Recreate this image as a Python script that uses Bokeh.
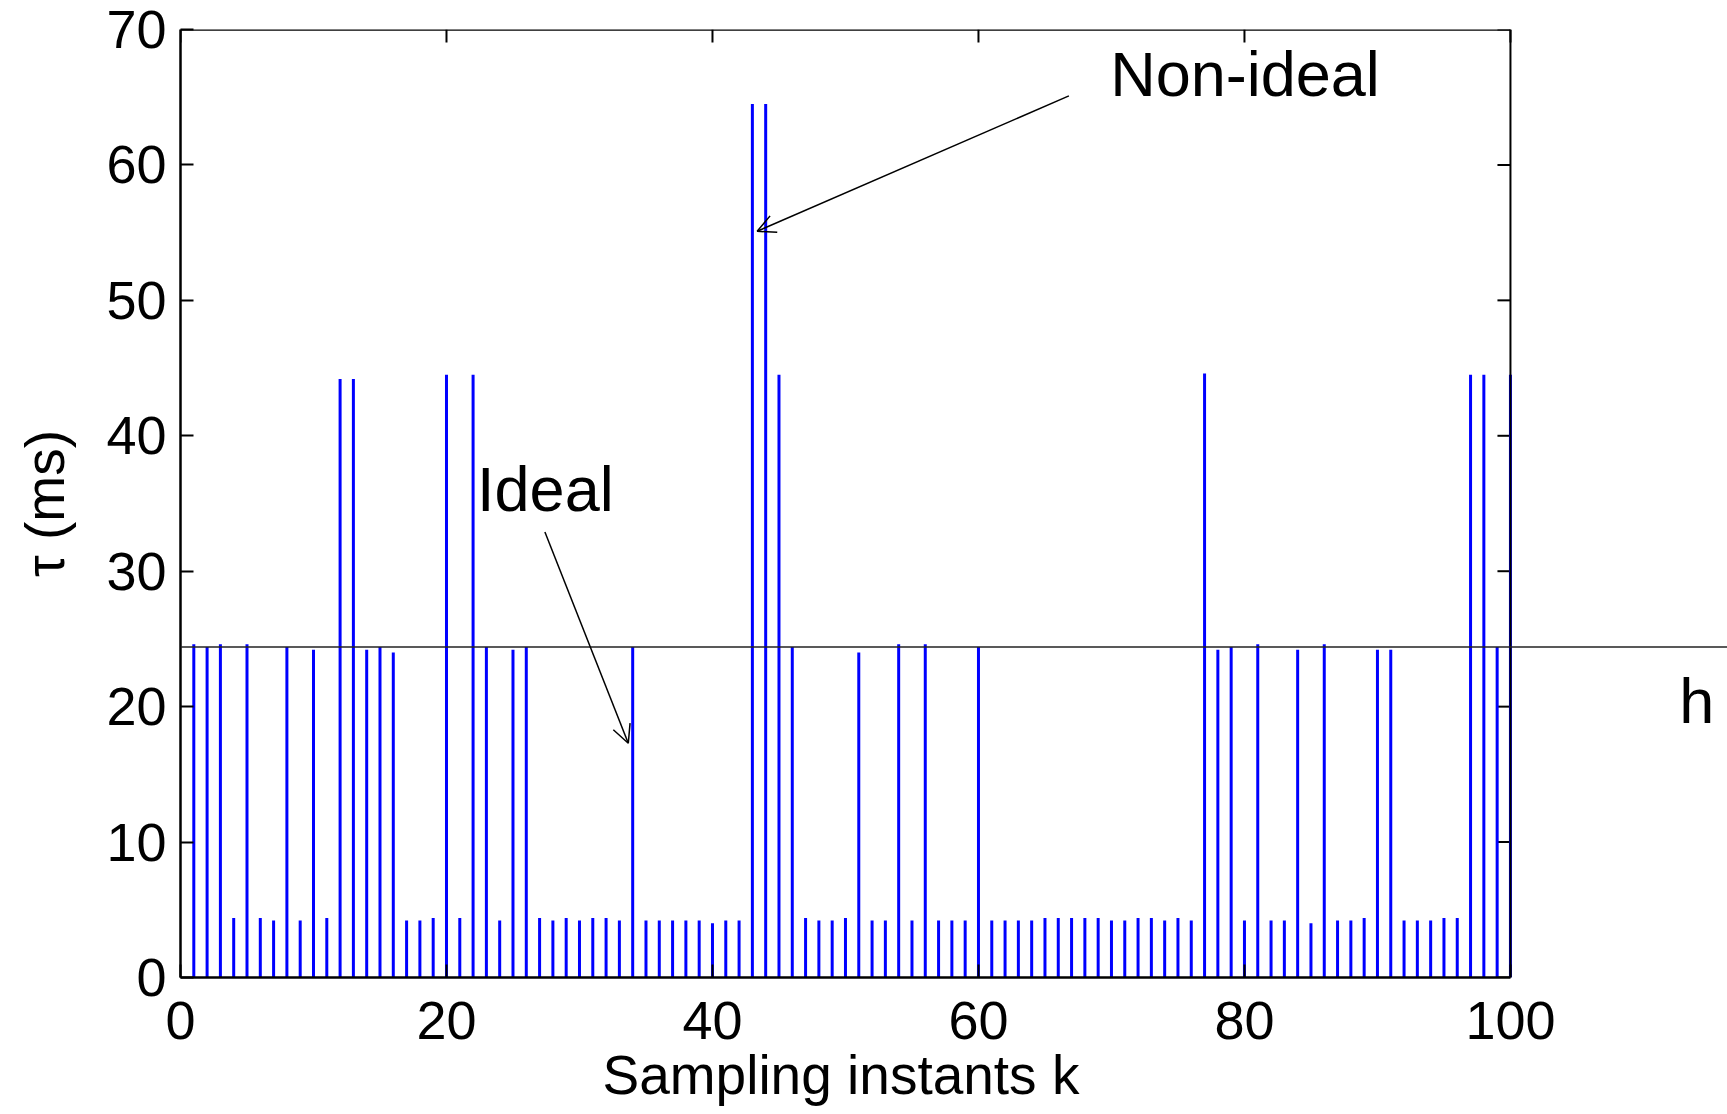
from bokeh.plotting import figure
from bokeh.models import (Range1d, LinearAxis, FixedTicker, Span, Arrow, OpenHead,
                          ColumnDataSource, Label, Title)
from bokeh.embed import file_html
from bokeh.resources import INLINE

# ---- data ----
k = list(range(1, 101))
tau = [24.6, 24.4, 24.6, 4.4, 24.6, 4.4, 4.2, 24.4, 4.2, 24.2,
       4.4, 44.2, 44.2, 24.2, 24.4, 24.0, 4.2, 4.2, 4.4, 44.5,
       4.4, 44.5, 24.4, 4.2, 24.2, 24.4, 4.4, 4.2, 4.4, 4.2,
       4.4, 4.4, 4.2, 24.4, 4.2, 4.2, 4.2, 4.2, 4.2, 4.0,
       4.2, 4.2, 64.5, 64.5, 44.5, 24.4, 4.4, 4.2, 4.2, 4.4,
       24.0, 4.2, 4.2, 24.6, 4.2, 24.6, 4.2, 4.2, 4.2, 24.4,
       4.2, 4.2, 4.2, 4.2, 4.4, 4.4, 4.4, 4.4, 4.4, 4.2,
       4.2, 4.4, 4.4, 4.2, 4.4, 4.2, 44.6, 24.2, 24.4, 4.2,
       24.6, 4.2, 4.2, 24.2, 4.0, 24.6, 4.2, 4.2, 4.4, 24.2,
       24.2, 4.2, 4.2, 4.2, 4.4, 4.4, 44.5, 44.5, 24.4, 44.5]
h_value = 24.4
x_ticks = [0, 20, 40, 60, 80, 100]
y_ticks = [0, 10, 20, 30, 40, 50, 60, 70]
x_label = "Sampling instants k"
y_label = "τ (ms)"

FONT = "Liberation Sans"
XMAX = 100
YMAX = 70
XRANGE_END = 116.32

p = figure(width=1727, height=1114, output_backend="svg", toolbar_location=None,
           x_range=Range1d(0, XRANGE_END), y_range=Range1d(0, YMAX),
           x_axis_type=None, y_axis_type=None,
           min_border_left=180, min_border_right=0, min_border_top=29,
           min_border_bottom=137)
p.outline_line_color = None
p.xgrid.visible = False
p.ygrid.visible = False
p.background_fill_color = "white"
p.border_fill_color = "white"

def style(ax):
    ax.axis_line_width = 2.5
    ax.axis_line_color = "black"
    ax.major_tick_in = 13
    ax.major_tick_out = 0
    ax.major_tick_line_width = 2
    ax.minor_tick_line_color = None
    ax.major_label_text_font = FONT
    ax.major_label_text_font_size = "54px"
    ax.major_label_text_color = "black"
    ax.axis_label_text_font = FONT
    ax.axis_label_text_font_size = "55px"
    ax.axis_label_text_font_style = "normal"
    ax.axis_label_text_color = "black"

xb = LinearAxis(ticker=FixedTicker(ticks=x_ticks), bounds=(0, XMAX))
style(xb)
xb.major_label_standoff = 24
p.add_layout(xb, "below")

# x axis label, centred under the 0..100 part of the axis
p.add_layout(Title(text=x_label, align="left", offset=422, standoff=0,
                   text_font=FONT, text_font_size="55px", text_font_style="normal",
                   text_color="black"), "below")

yl = LinearAxis(ticker=FixedTicker(ticks=y_ticks), axis_label=y_label)
style(yl)
yl.major_label_standoff = 14
yl.axis_label_standoff = 27
p.add_layout(yl, "left")

# top and right sides of the box, with inward ticks
p.add_layout(Span(location=XMAX, dimension="height", line_color="black", line_width=2))
p.segment(x0=[0], y0=[YMAX], x1=[XMAX], y1=[YMAX], line_color="black", line_width=2.5)
tick_dx = 13 / 13.3
tick_dy = 13 / 13.53
p.segment(x0=[XMAX - tick_dx] * len(y_ticks), y0=y_ticks,
          x1=[XMAX] * len(y_ticks), y1=y_ticks, line_color="black", line_width=2)
p.segment(x0=x_ticks, y0=[YMAX - tick_dy] * len(x_ticks),
          x1=x_ticks, y1=[YMAX] * len(x_ticks), line_color="black", line_width=2)

# stems
src = ColumnDataSource(dict(k=k, tau=tau, zero=[0] * len(k)))
p.segment(x0="k", y0="zero", x1="k", y1="tau", source=src, line_color="#0000FF", line_width=3)

# h line
p.add_layout(Span(location=h_value, dimension="width", line_color="#222222", line_width=1.6))

# annotations
p.add_layout(Label(x=69.9, y=66.7, text="Non-ideal", text_font=FONT, text_font_size="63px",
                   text_baseline="middle", text_align="left", text_color="black"))
p.add_layout(Label(x=22.3, y=36.1, text="Ideal", text_font=FONT, text_font_size="63px",
                   text_baseline="middle", text_align="left", text_color="black"))
p.add_layout(Label(x=114.0, y=20.4, text="h", text_font=FONT, text_font_size="63px",
                   text_baseline="middle", text_align="center", text_color="black"))
p.add_layout(Arrow(end=OpenHead(size=18, line_width=1.5, line_color="black"),
                   x_start=66.8, y_start=65.1, x_end=43.36, y_end=55.1,
                   line_width=1.5, line_color="black"))
p.add_layout(Arrow(end=OpenHead(size=18, line_width=1.5, line_color="black"),
                   x_start=27.4, y_start=32.9, x_end=33.67, y_end=17.3,
                   line_width=1.5, line_color="black"))

open("out.html", "w").write(file_html(p, INLINE))
